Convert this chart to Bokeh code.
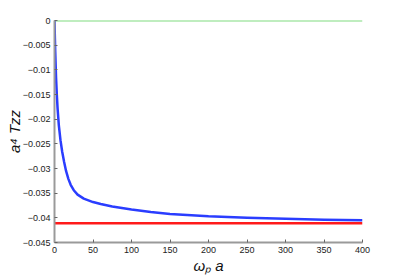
from bokeh.plotting import figure
from bokeh.models import FixedTicker, Range1d
from bokeh.embed import file_html
from bokeh.resources import INLINE

# data
x_blue = [0, 0.5, 1, 2, 3, 4, 5.6, 7.8, 10, 12.5, 15, 18, 21, 25, 30, 38, 50,
          60, 75, 100, 125, 150, 200, 250, 300, 350, 400]
y_blue = [0, -0.0035, -0.0065, -0.0115, -0.0150, -0.0178, -0.0212, -0.0243,
          -0.0266, -0.0287, -0.0305, -0.0321, -0.0333, -0.0344, -0.0353, -0.0361,
          -0.0368, -0.0372, -0.0377, -0.0383, -0.0388, -0.0392, -0.0397, -0.0400,
          -0.0402, -0.0404, -0.0405]
x_red = [0, 400]
y_red = [-0.0411, -0.0411]
x_green = [0, 400]
y_green = [0, 0]

x_ticks = [0, 50, 100, 150, 200, 250, 300, 350, 400]
y_ticks = [0, -0.005, -0.01, -0.015, -0.02, -0.025, -0.03, -0.035, -0.04, -0.045]
y_tick_labels = ["0", "\u22120.005", "\u22120.01", "\u22120.015", "\u22120.02",
                 "\u22120.025", "\u22120.03", "\u22120.035", "\u22120.04", "\u22120.045"]
x_label = "\u03c9\u209a a"
y_label = "a\u2074 Tzz"

p = figure(width=400, height=276, output_backend="svg", toolbar_location=None,
           x_range=Range1d(0, 400), y_range=Range1d(-0.045, 0),
           min_border_left=54, min_border_right=38, min_border_top=20,
           min_border_bottom=33)
p.outline_line_color = None
p.grid.visible = False

p.line(x_green, y_green, line_color="#80dc80", line_width=2)
p.line(x_red, y_red, line_color="#ff1a1a", line_width=2.5)
p.line(x_blue, y_blue, line_color="#2a3dff", line_width=2.5, line_join="round")

for ax in (p.xaxis[0], p.yaxis[0]):
    ax.axis_line_color = "#9a9a9a"
    ax.axis_line_width = 2
    ax.major_tick_line_color = "#666666"
    ax.major_tick_in = 3
    ax.major_tick_out = 0
    ax.minor_tick_line_color = None
    ax.major_label_text_font = "Liberation Sans"
    ax.major_label_text_font_size = "9px"
    ax.major_label_text_color = "#222222"
    ax.axis_label_text_font = "Liberation Sans"
    ax.axis_label_text_font_style = "italic"
    ax.axis_label_text_font_size = "15px"
    ax.axis_label_text_color = "#111111"

p.xaxis.ticker = FixedTicker(ticks=x_ticks)
p.yaxis.ticker = FixedTicker(ticks=y_ticks)
p.yaxis.major_label_overrides = dict(zip(y_ticks, y_tick_labels))
p.xaxis.major_label_standoff = 4
p.yaxis.major_label_standoff = 4
p.xaxis.axis_label = x_label
p.xaxis.axis_label_standoff = 1
p.yaxis.axis_label = y_label
p.yaxis.axis_label_standoff = -3

open("out.html", "w").write(file_html(p, INLINE))
